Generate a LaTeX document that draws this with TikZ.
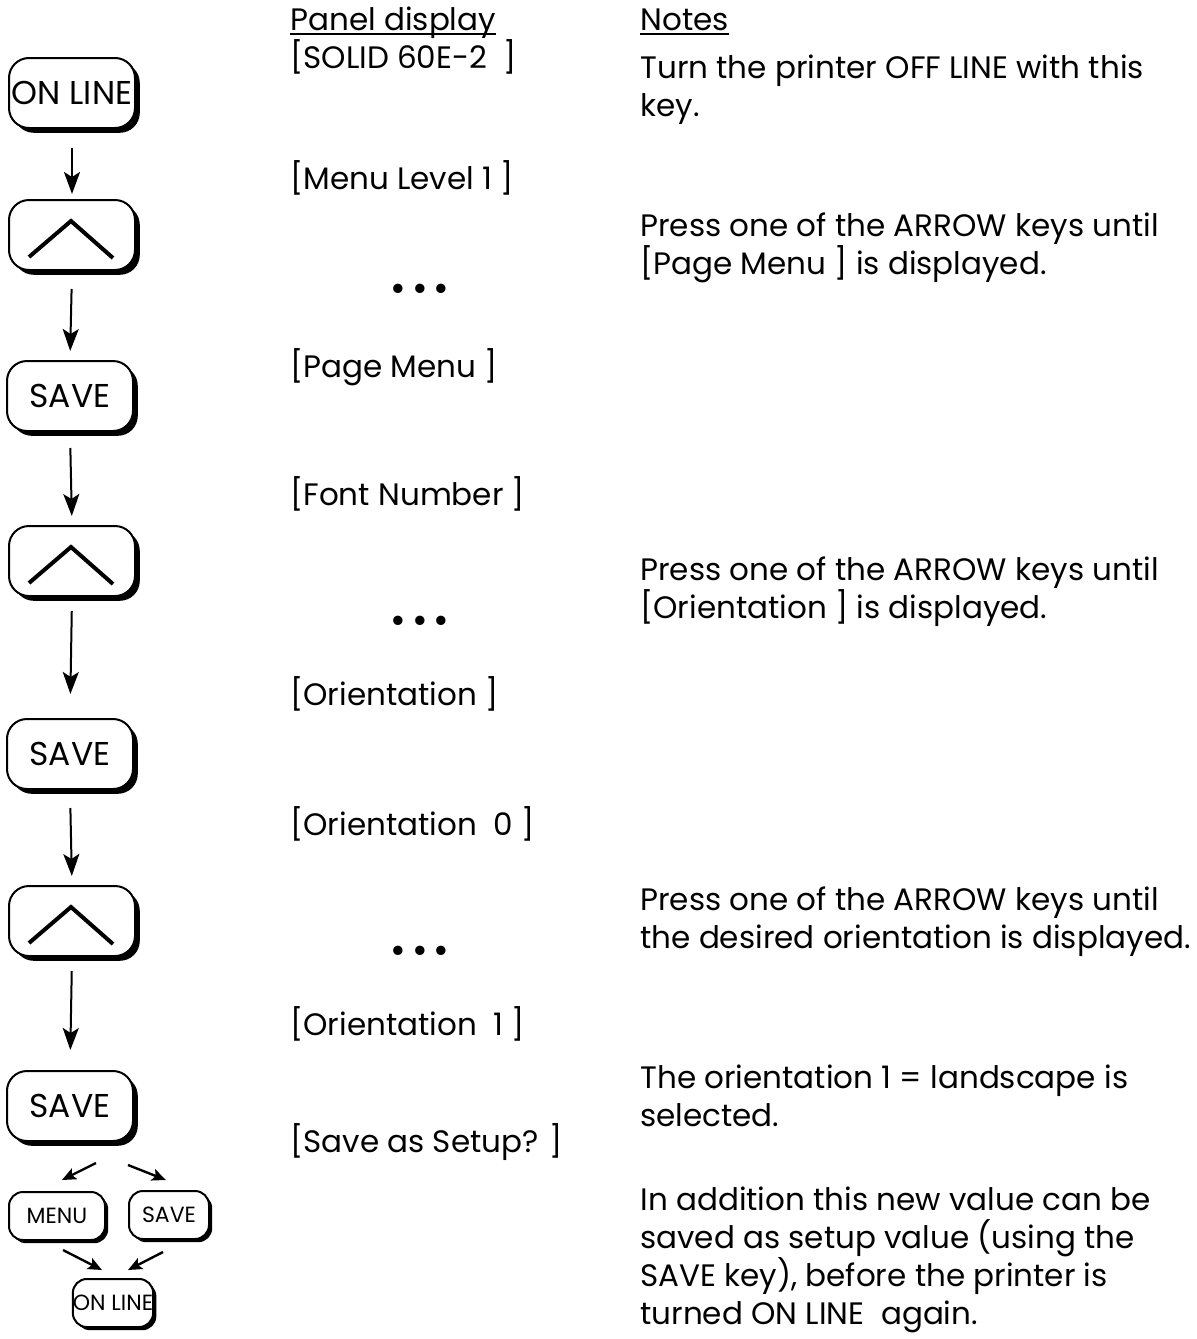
\documentclass[tikz,border=0pt]{standalone}
\usepackage{fontspec}
\setmainfont{Poppins}
\usetikzlibrary{arrows.meta,shadows}
\begin{document}
\begin{tikzpicture}[x=0.5pt,y=-0.5pt,
  keybase/.style={draw, line width=1pt, fill=white, inner sep=0pt},
  key/.style={keybase, rounded corners=10pt, minimum width=63pt, minimum height=35pt,
    font=\fontsize{16.5}{19}\selectfont,
    drop shadow={shadow xshift=2.4pt, shadow yshift=-2.4pt, fill=black, opacity=1}},
  skey/.style={keybase, rounded corners=7pt, minimum height=24pt,
    font=\fontsize{11}{13}\selectfont,
    drop shadow={shadow xshift=1.6pt, shadow yshift=-1.6pt, fill=black, opacity=1}},
  flow/.style={line width=1pt, -{Stealth[length=11pt,width=8pt,inset=2.5pt]}},
  sflow/.style={line width=1.2pt, -{Stealth[length=7pt,width=6pt,inset=1.5pt]}},
  chev/.style={line width=2pt},
  txt/.style={anchor=base west, inner sep=0pt, font=\fontsize{15.5}{19}\selectfont},
  uline/.style={line width=1pt},
  dots/.style={inner sep=0pt, font=\fontsize{19}{22}\selectfont},
]
\useasboundingbox (0,0) rectangle (1197,1339);

% ---- keys ----
\node[key] (k1) at (72,93)   {ON LINE};
\node[key] (k2) at (72,235)  {};
\node[key] (k3) at (70,396)  {SAVE};
\node[key] (k4) at (72,561)  {};
\node[key] (k5) at (70,754)  {SAVE};
\node[key] (k6) at (72,921)  {};
\node[key] (k7) at (70,1106) {SAVE};

\foreach \k in {k2,k4,k6}{
  \draw[chev] ([shift={(-43,22)}]\k.center) -- ([shift={(-1,-14)}]\k.center) -- ([shift={(41,23)}]\k.center);
}

\node[skey, minimum width=48pt] (menu) at (57,1216) {MENU};
\node[skey, minimum width=40pt] (sv)   at (169,1215) {SAVE};
\node[skey, minimum width=40pt] (on)   at (113,1303) {ON LINE};

% ---- connectors ----
\draw[flow, shorten <=9.5pt, shorten >=2.5pt] (k1.south) -- (k2.north);
\draw[flow, shorten <=9pt,   shorten >=4.5pt] (k2.south) -- (k3.north);
\draw[flow, shorten <=8pt,   shorten >=4.5pt] (k3.south) -- (k4.north);
\draw[flow, shorten <=7pt,   shorten >=12pt]  (k4.south) -- (k5.north);
\draw[flow, shorten <=9pt,   shorten >=4.5pt] (k5.south) -- (k6.north);
\draw[flow, shorten <=7pt,   shorten >=10pt]  (k6.south) -- (k7.north);

\draw[sflow] ([shift={(26,57)}]k7.center) -- ([shift={(5,-36)}]menu.center);
\draw[sflow] ([shift={(58,59)}]k7.center) -- ([shift={(-3,-35)}]sv.center);
\draw[sflow] ([shift={(6,34)}]menu.center) -- ([shift={(-11,-33)}]on.center);
\draw[sflow] ([shift={(-6,37)}]sv.center) -- ([shift={(15,-33)}]on.center);

% ---- panel display column ----
\node[txt] (ph) at (290,30)   {Panel display};
\draw[uline] ([yshift=-2pt]ph.base west) -- ([yshift=-2pt]ph.base east);
\node[txt] (p1) at (290,68)   {[SOLID 60E-2\ \ ]};
\node[txt] (p2) at (290,189)  {[Menu Level 1 ]};
\node[dots] (d1) at (420,293) {•\hspace{3pt}•\hspace{3pt}•};
\node[txt] (p3) at (290,377)  {[Page Menu ]};
\node[txt] (p4) at (290,505)  {[Font Number ]};
\node[dots] (d2) at (420,625) {•\hspace{3pt}•\hspace{3pt}•};
\node[txt] (p5) at (290,705)  {[Orientation ]};
\node[txt] (p6) at (290,835)  {[Orientation\ \ 0 ]};
\node[dots] (d3) at (420,955) {•\hspace{3pt}•\hspace{3pt}•};
\node[txt] (p7) at (290,1035) {[Orientation\ \ 1 ]};
\node[txt] (p8) at (290,1152) {[Save as Setup? ]};

% ---- notes column ----
\node[txt] (nh) at (640,30)   {Notes};
\draw[uline] ([yshift=-2pt]nh.base west) -- ([yshift=-2pt]nh.base east);
\node[txt] (n1a) at (640,78)  {Turn the printer OFF LINE with this};
\node[txt] (n1b) at (640,116) {key.};
\node[txt] (n2a) at (640,236) {Press one of the ARROW keys until};
\node[txt] (n2b) at (640,274) {[Page Menu ] is displayed.};
\node[txt] (n3a) at (640,580) {Press one of the ARROW keys until};
\node[txt] (n3b) at (640,618) {[Orientation ] is displayed.};
\node[txt] (n4a) at (640,910) {Press one of the ARROW keys until};
\node[txt] (n4b) at (640,948) {the desired orientation is displayed.};
\node[txt] (n5a) at (640,1088) {The orientation 1 = landscape is};
\node[txt] (n5b) at (640,1126) {selected.};
\node[txt] (n6a) at (640,1210) {In addition this new value can be};
\node[txt] (n6b) at (640,1248) {saved as setup value (using the};
\node[txt] (n6c) at (640,1286) {SAVE key), before the printer is};
\node[txt] (n6d) at (640,1324) {turned ON LINE\ \ again.};
\end{tikzpicture}
\end{document}
